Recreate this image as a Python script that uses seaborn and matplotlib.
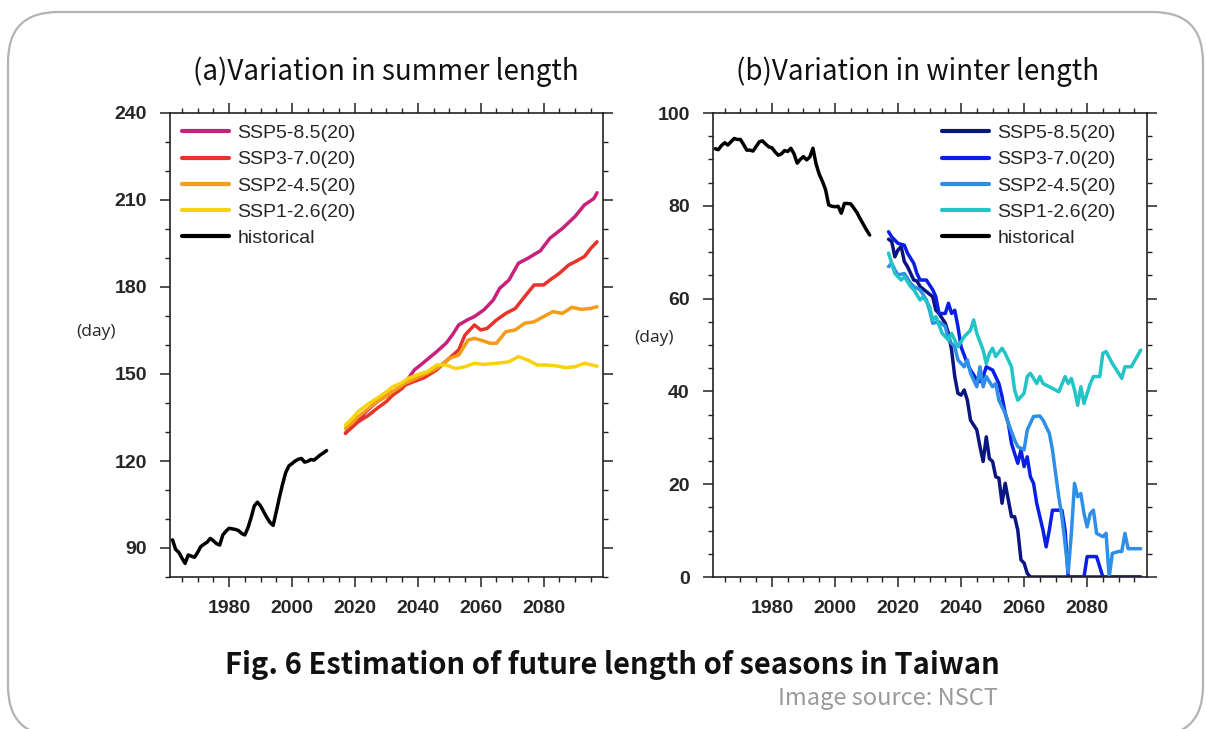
import numpy as np
import pandas as pd
import matplotlib
matplotlib.use("Agg")
import matplotlib.pyplot as plt
from matplotlib.ticker import MultipleLocator
from matplotlib.patches import FancyBboxPatch
import seaborn as sns

sns.set_style("ticks")
plt.rcParams['font.family'] = ['Liberation Sans', 'DejaVu Sans']

# ---------------- data: summer length (days) ----------------
hist_years = list(range(1962, 2012))
summer_hist = [92.8, 89.5, 88.5, 86.5, 84.7, 87.6, 87.2, 86.8, 88.5, 90.5,
               91.3, 92.0, 93.3, 92.5, 91.5, 91.0, 94.5, 95.8, 96.8, 96.6,
               96.4, 96.0, 95.0, 94.5, 97.0, 100.5, 104.5, 105.8, 104.5, 102.5,
               100.5, 98.8, 97.8, 102.5, 107.5, 112.0, 116.0, 118.3, 119.1, 120.0,
               120.6, 120.9, 119.6, 119.9, 120.5, 120.3, 121.2, 122.1, 122.8, 123.6]

s585_years = [2017, 2019, 2021, 2024, 2027, 2030, 2032, 2035, 2037, 2039, 2041, 2043, 2046,
              2049, 2051, 2053, 2056, 2058, 2061, 2064, 2066, 2069, 2072, 2075, 2079, 2082,
              2086, 2090, 2093, 2096, 2097]
s585_summer = [129.5, 132.0, 134.1, 137.5, 140.4, 142.5, 143.9, 145.0, 148.5, 151.5, 153.2,
               155.0, 157.7, 160.6, 163.5, 166.9, 168.8, 169.8, 172.1, 175.5, 179.5, 182.4,
               188.2, 189.9, 192.5, 196.8, 200.2, 204.3, 208.3, 210.5, 212.5]

s370_years = [2017, 2019, 2021, 2024, 2027, 2030, 2032, 2034, 2036, 2039, 2042, 2046, 2050,
              2053, 2055, 2058, 2060, 2062, 2065, 2068, 2071, 2074, 2077, 2080, 2082, 2085,
              2088, 2090, 2093, 2095, 2097]
s370_summer = [129.7, 131.5, 133.5, 135.5, 138.1, 140.5, 142.7, 144.2, 146.2, 147.5, 148.7,
               151.4, 155.4, 158.3, 163.4, 166.9, 165.2, 165.7, 168.6, 170.9, 172.6, 176.7,
               180.7, 180.7, 182.4, 184.7, 187.6, 188.7, 190.5, 193.3, 195.6]

s245_years = [2017, 2019, 2021, 2024, 2027, 2030, 2032, 2036, 2040, 2043, 2046, 2050, 2053,
              2056, 2058, 2060, 2063, 2065, 2068, 2071, 2074, 2077, 2080, 2083, 2086, 2089,
              2092, 2095, 2097]
s245_summer = [131.2, 133.0, 135.2, 137.8, 140.4, 142.3, 143.9, 146.8, 148.8, 150.3, 151.9,
               155.4, 156.5, 161.7, 162.3, 161.7, 160.6, 160.6, 164.6, 165.2, 167.5, 168.0,
               169.8, 171.5, 170.9, 173.0, 172.3, 172.6, 173.2]

s126_years = [2017, 2019, 2021, 2024, 2027, 2030, 2032, 2035, 2037, 2040, 2043, 2046, 2049,
              2052, 2055, 2058, 2061, 2065, 2069, 2072, 2075, 2078, 2081, 2084, 2087, 2090,
              2093, 2095, 2097]
s126_summer = [132.4, 134.5, 137.0, 139.5, 141.6, 143.8, 145.6, 147.0, 148.5, 149.8, 150.8,
               153.1, 153.1, 151.9, 152.5, 153.7, 153.3, 153.7, 154.2, 156.0, 154.8, 153.1,
               153.1, 152.8, 152.2, 152.5, 153.7, 153.2, 152.7]

# ---------------- data: winter length (days) ----------------
winter_hist = [92.3, 92.1, 93.0, 93.6, 93.1, 93.8, 94.5, 94.3, 94.3, 93.2,
               92.0, 92.0, 91.8, 92.8, 93.8, 94.0, 93.3, 92.7, 92.5, 91.6,
               90.9, 91.2, 91.9, 91.7, 92.4, 91.2, 89.2, 90.0, 90.6, 89.9,
               90.5, 92.4, 89.0, 86.8, 85.3, 83.5, 80.2, 79.9, 79.8, 79.9,
               78.4, 80.5, 80.5, 80.4, 79.5, 78.5, 77.2, 76.0, 74.8, 73.7]

w585_years = [2017, 2018, 2019, 2020, 2021, 2022, 2023, 2025, 2026, 2027, 2029, 2031, 2032,
              2033, 2035, 2036, 2037, 2038, 2039, 2040, 2041, 2042, 2043, 2045, 2046, 2047,
              2048, 2049, 2050, 2051, 2052, 2053, 2054, 2055, 2056, 2057, 2058, 2059, 2060,
              2061, 2062, 2097]
w585_winter = [72.8, 72.3, 69.0, 70.5, 71.2, 68.0, 66.9, 64.0, 63.8, 62.6, 61.5, 60.4, 57.5,
               56.8, 54.7, 52.5, 48.9, 43.2, 39.6, 39.2, 40.3, 38.1, 33.8, 31.7, 28.1, 24.9,
               30.2, 25.5, 24.9, 21.6, 21.3, 15.9, 20.2, 16.6, 13.0, 13.0, 10.1, 3.7, 3.0,
               0.8, 0.0, 0.0]

w370_years = [2017, 2018, 2020, 2022, 2023, 2025, 2026, 2027, 2029, 2031, 2032, 2033, 2035,
              2036, 2037, 2038, 2039, 2040, 2042, 2043, 2045, 2046, 2047, 2048, 2050, 2052,
              2053, 2054, 2055, 2056, 2057, 2058, 2059, 2060, 2061, 2062, 2063, 2064, 2065,
              2066, 2067, 2068, 2069, 2072, 2073, 2074, 2079, 2080, 2083, 2085, 2097]
w370_winter = [74.4, 73.3, 71.9, 71.5, 69.8, 67.6, 65.4, 64.0, 64.0, 61.9, 60.4, 56.8, 56.8,
               59.0, 56.8, 57.5, 54.0, 49.6, 46.0, 44.6, 42.5, 42.1, 43.2, 45.3, 44.6, 41.7,
               38.9, 35.3, 33.1, 28.8, 26.6, 24.5, 27.4, 23.8, 25.9, 21.6, 20.2, 15.9, 13.0,
               10.1, 6.5, 10.1, 14.4, 14.4, 10.1, 0.0, 0.0, 4.4, 4.4, 0.0, 0.0]

w245_years = [2017, 2018, 2019, 2020, 2022, 2024, 2025, 2027, 2029, 2030, 2031, 2033, 2035,
              2036, 2038, 2039, 2041, 2042, 2043, 2045, 2046, 2047, 2048, 2050, 2051, 2052,
              2054, 2055, 2057, 2058, 2060, 2061, 2063, 2065, 2066, 2068, 2069, 2070, 2071,
              2072, 2073, 2074, 2075, 2076, 2077, 2078, 2079, 2080, 2081, 2082, 2083, 2085,
              2086, 2087, 2088, 2090, 2091, 2092, 2093, 2095, 2097]
w245_winter = [66.9, 67.6, 66.2, 65.1, 65.4, 63.3, 62.6, 61.9, 59.7, 57.5, 54.7, 55.0, 54.0,
               51.1, 49.6, 46.8, 45.3, 46.8, 43.9, 41.0, 45.3, 41.0, 43.2, 41.0, 41.7, 38.1,
               35.3, 33.1, 29.5, 28.1, 27.4, 31.7, 34.6, 34.7, 33.8, 31.0, 27.4, 22.3, 17.3,
               13.0, 7.2, 1.0, 9.4, 20.2, 17.3, 18.0, 13.7, 10.8, 13.7, 14.4, 9.4, 8.7,
               9.4, 0.0, 5.1, 5.5, 5.5, 9.4, 6.1, 6.1, 6.1]

w126_years = [2017, 2018, 2019, 2021, 2022, 2024, 2025, 2027, 2028, 2030, 2031, 2032, 2034,
              2036, 2037, 2039, 2041, 2043, 2044, 2045, 2047, 2048, 2049, 2050, 2051, 2053,
              2054, 2056, 2057, 2058, 2060, 2061, 2062, 2064, 2065, 2066, 2068, 2070, 2071,
              2073, 2074, 2075, 2076, 2077, 2078, 2079, 2081, 2082, 2084, 2085, 2086, 2088,
              2090, 2091, 2092, 2094, 2097]
w126_winter = [69.8, 67.6, 65.4, 64.0, 64.7, 62.6, 61.9, 59.7, 60.4, 58.3, 55.4, 56.1, 52.5,
               51.1, 52.5, 49.6, 51.8, 53.2, 55.4, 52.5, 48.9, 46.0, 48.2, 49.3, 47.5, 49.3,
               48.2, 45.3, 40.3, 38.1, 39.6, 43.2, 43.9, 41.7, 43.2, 41.7, 41.0, 40.3, 39.9,
               43.2, 41.7, 42.8, 40.3, 37.0, 41.0, 37.4, 41.7, 43.2, 43.2, 48.2, 48.6, 46.0,
               43.9, 42.8, 45.3, 45.3, 48.9]

labels = ["SSP5-8.5(20)", "SSP3-7.0(20)", "SSP2-4.5(20)", "SSP1-2.6(20)", "historical"]
summer_colors = ["#c8217c", "#e8332b", "#f59c16", "#f7d20d", "#000000"]
winter_colors = ["#0b1580", "#0a1fe6", "#2f8ee6", "#22c4c8", "#000000"]

def build(series):
    frames = []
    for lab, (yrs, vals) in zip(labels, series):
        frames.append(pd.DataFrame({"year": yrs, "value": vals, "scenario": lab}))
    return pd.concat(frames, ignore_index=True)

df_summer = build([(s585_years, s585_summer), (s370_years, s370_summer),
                   (s245_years, s245_summer), (s126_years, s126_summer),
                   (hist_years, summer_hist)])
df_winter = build([(w585_years, w585_winter), (w370_years, w370_winter),
                   (w245_years, w245_winter), (w126_years, w126_winter),
                   (hist_years, winter_hist)])

# ---------------- figure ----------------
W, H = 1206, 729
fig = plt.figure(figsize=(W / 100, H / 100), dpi=100)
fig.patch.set_facecolor("white")

def ax_rect(x0, y0, x1, y1):
    return [x0 / W, 1 - y1 / H, (x1 - x0) / W, (y1 - y0) / H]

axL = fig.add_axes(ax_rect(170, 113, 603, 577))
axR = fig.add_axes(ax_rect(712.7, 113, 1146.7, 577))

for ax, df, cols in [(axL, df_summer, summer_colors), (axR, df_winter, winter_colors)]:
    sns.lineplot(data=df, x="year", y="value", hue="scenario", hue_order=labels,
                 palette=dict(zip(labels, cols)), estimator=None, sort=False,
                 linewidth=2.5, ax=ax)
    ax.set_xlim(1961.2, 2098.9)
    ax.set_xticks(range(1980, 2081, 20))
    ax.xaxis.set_minor_locator(MultipleLocator(5))
    ax.set_xlabel("")
    ax.set_ylabel("")
    ax.tick_params(which="both", direction="out", top=True, right=True,
                   labeltop=False, labelright=False, color="#222222")
    ax.tick_params(which="major", length=7.5, width=1.1, pad=9,
                   labelsize=14)
    ax.tick_params(which="minor", length=3.8, width=1.0)
    for sp in ax.spines.values():
        sp.set_linewidth(1.2)
        sp.set_color("#222222")

axL.set_ylim(80, 240)
axL.set_yticks(range(90, 241, 30))
axL.yaxis.set_minor_locator(MultipleLocator(10))
axR.set_ylim(0, 100)
axR.set_yticks(range(0, 101, 20))
axR.yaxis.set_minor_locator(MultipleLocator(5))
for ax in (axL, axR):
    for lab in ax.get_xticklabels() + ax.get_yticklabels():
        lab.set_fontweight("bold")

leg_kw = dict(loc="upper left", frameon=False, fontsize=14, handlelength=2.4,
              handletextpad=0.45, labelspacing=0.44, borderaxespad=0, borderpad=0)
legL = axL.legend(bbox_to_anchor=(0.028, 0.975), **leg_kw)
legR = axR.legend(bbox_to_anchor=(0.528, 0.975), **leg_kw)
for leg in (legL, legR):
    for ln in leg.get_lines():
        ln.set_linewidth(3.0)

title_font = ["Noto Sans CJK TC", "DejaVu Sans"]
fig.text(386 / W, 1 - 72 / H, "(a)Variation in summer length", ha="center", va="center",
         fontsize=20, family=title_font, color="#111111")
fig.text(918 / W, 1 - 72 / H, "(b)Variation in winter length", ha="center", va="center",
         fontsize=20, family=title_font, color="#111111")
fig.text(96 / W, 1 - 332 / H, "(day)", ha="center", va="center", fontsize=12.5,
         family=["Open Sans", "DejaVu Sans"])
fig.text(654 / W, 1 - 338 / H, "(day)", ha="center", va="center", fontsize=12.5,
         family=["Open Sans", "DejaVu Sans"])

cap_font = ["Noto Sans CJK JP", "DejaVu Sans"]
fig.text(612 / W, 1 - 665 / H, "Fig. 6 Estimation of future length of seasons in Taiwan",
         ha="center", va="center", fontsize=21, fontweight="bold", family=cap_font,
         color="#111111")
fig.text(998 / W, 1 - 698 / H, "Image source: NSCT", ha="right", va="center",
         fontsize=17, family=cap_font, color="#9a9a9a")

frame = FancyBboxPatch((0.08, -0.07), 11.95, 7.24,
                       boxstyle="round,pad=0,rounding_size=0.5",
                       transform=fig.dpi_scale_trans, fill=False,
                       edgecolor="#b3b3b3", linewidth=1.6)
fig.add_artist(frame)

fig.savefig("out.png", dpi=100)
